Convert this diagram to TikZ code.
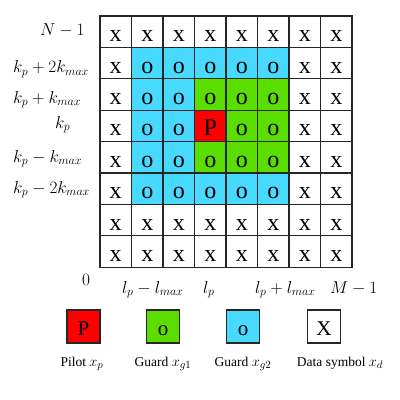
\documentclass[tikz,border=0pt]{standalone}
\usepackage{fontspec}
\setmainfont{Liberation Serif}
\DeclareMathSizes{17}{17}{13}{10}
\DeclareMathSizes{13.5}{13.5}{11}{8}
\definecolor{cblue}{RGB}{72,217,255}
\definecolor{cgreen}{RGB}{92,221,0}
\definecolor{cred}{RGB}{255,0,0}
\def\txtw{x}\def\txtb{o}\def\txtg{o}\def\txtr{P}
\begin{document}
\begin{tikzpicture}[x=1pt,y=-1pt,
 cellbase/.style={minimum width=31.5pt, minimum height=31.4pt, inner sep=0pt, outer sep=0pt, text height=20pt, text depth=0pt, font=\fontsize{24}{24}\selectfont},
 cellw/.style={cellbase, fill=white},
 cellb/.style={cellbase, fill=cblue},
 cellg/.style={cellbase, fill=cgreen},
 cellr/.style={cellbase, fill=cred},
 gridline/.style={draw=black!85, line width=1.3pt, line cap=rect},
 lbl/.style={anchor=base west, inner sep=0pt, font=\fontsize{17}{17}\selectfont},
 legbox/.style={draw=black!85, line width=1.3pt, minimum size=33pt, inner sep=0pt, text height=17pt, text depth=0pt, font=\fontsize{21}{21}\selectfont},
 legtxt/.style={anchor=base, inner sep=0pt, font=\fontsize{13.5}{13.5}\selectfont}]
\useasboundingbox (0,0) rectangle (400,400);
\foreach \row [count=\r from 0] in {{w,w,w,w,w,w,w,w},{w,b,b,b,b,b,w,w},{w,b,b,g,g,g,w,w},{w,b,b,r,g,g,w,w},{w,b,b,g,g,g,w,w},{w,b,b,b,b,b,w,w},{w,w,w,w,w,w,w,w},{w,w,w,w,w,w,w,w}}{
  \foreach \t [count=\c from 0] in \row {
    \node[cell\t] (c\r-\c) at ({100+31.5*(\c+0.5)},{16+31.4*(\r+0.5)}) {\csname txt\t\endcsname};
  }
}
% grid lines
\foreach \i in {0,...,7}{
  \draw[gridline] (c0-\i.north west) -- (c7-\i.south west);
  \draw[gridline] (c\i-0.north west) -- (c\i-7.north east);
}
\draw[gridline] (c0-7.north east) -- (c7-7.south east);
\draw[gridline] (c7-0.south west) -- (c7-7.south east);
% left labels
\node[lbl] (lN) at (40,35) {$N-1$};
\node[lbl] (lk2p) at (13,72.5) {$k_p+2k_{max}$};
\node[lbl] (lk1p) at (13,103) {$k_p+k_{max}$};
\node[lbl] (lk) at (55,128) {$k_p$};
\node[lbl] (lk1m) at (13,162) {$k_p-k_{max}$};
\node[lbl] (lk2m) at (13,193) {$k_p-2k_{max}$};
% bottom labels
\node[lbl] (l0) at (82,285) {$0$};
\node[lbl] (llm) at (122,293) {$l_p-l_{max}$};
\node[lbl] (ll) at (203,293) {$l_p$};
\node[lbl] (llp) at (255,293) {$l_p+l_{max}$};
\node[lbl] (lM) at (330,293) {$M-1$};
% legend
\node[legbox, fill=cred] (gp) at (83.5,326.5) {P};
\node[legbox, fill=cgreen] (gg1) at (163,326.5) {o};
\node[legbox, fill=cblue] (gg2) at (243,326.5) {o};
\node[legbox, fill=white] (gd) at (324,326.5) {X};
\node[legtxt] (tp) at (82,366) {Pilot $x_p$};
\node[legtxt] (tg1) at (163,366) {Guard $x_{g1}$};
\node[legtxt] (tg2) at (243,366) {Guard $x_{g2}$};
\node[legtxt] (td) at (340,366) {Data symbol $x_d$};
\end{tikzpicture}
\end{document}
